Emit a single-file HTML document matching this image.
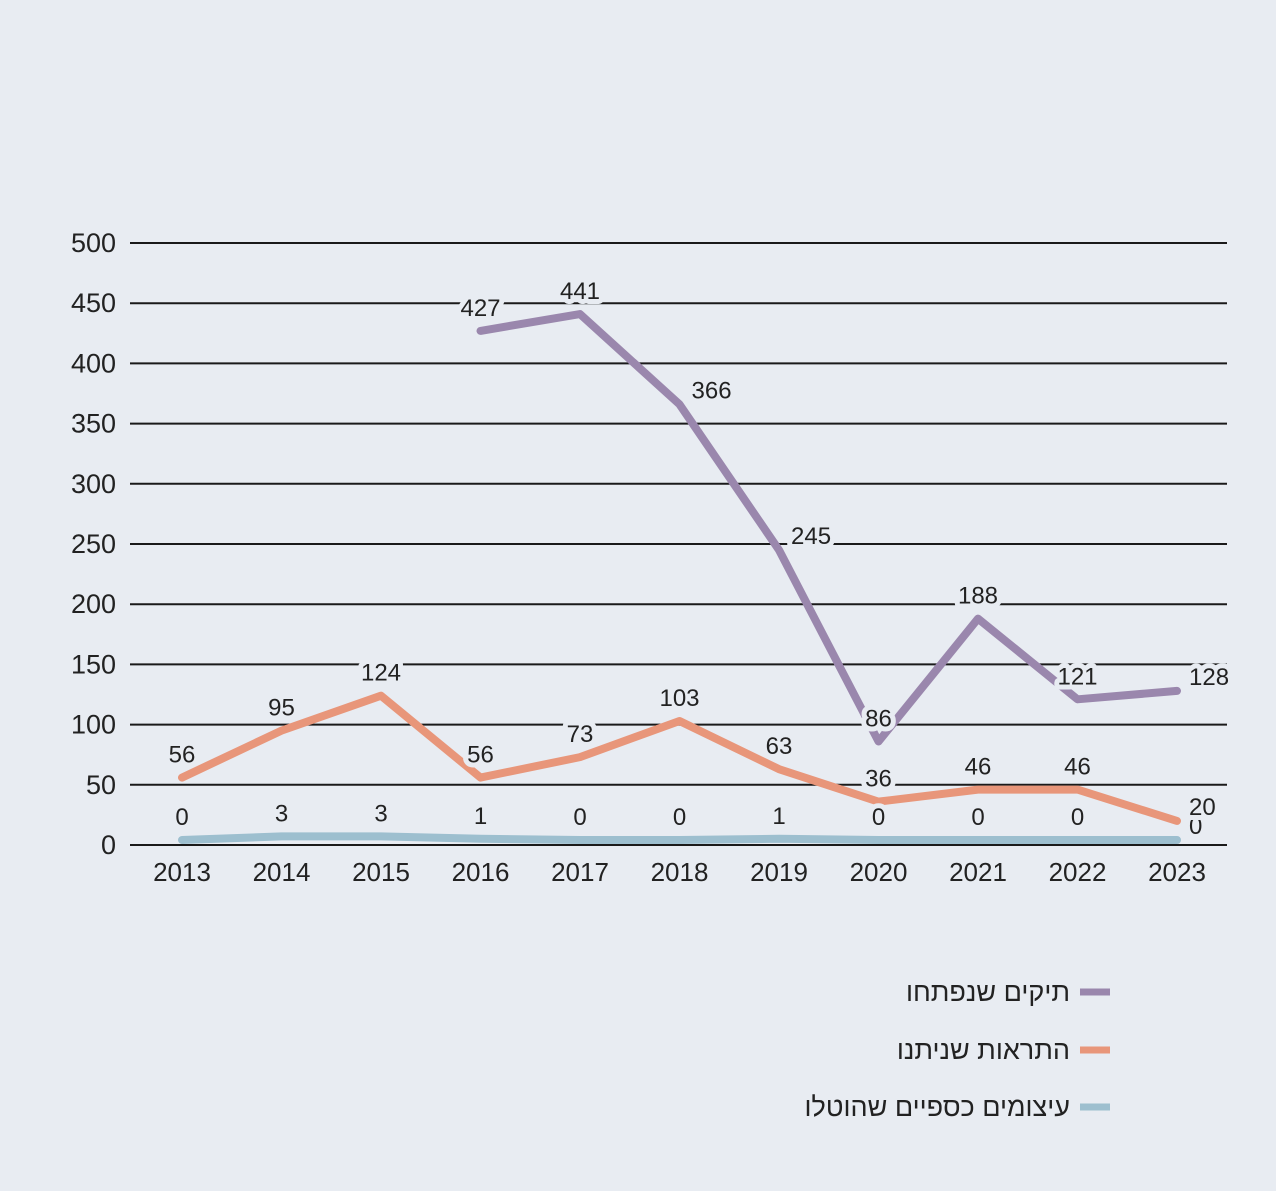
<!DOCTYPE html>
<html><head><meta charset="utf-8"><style>
body{margin:0;background:#e8ecf2;}
svg{display:block;font-family:"Liberation Sans",sans-serif;}
</style></head><body>
<svg id="chart" width="1276" height="1191" viewBox="0 0 1276 1191">
<rect width="1276" height="1191" fill="#e8ecf2"/>
<g id="grid"></g><g id="series"></g><g id="labels"></g>
<g font-family="'Liberation Sans','DejaVu Sans',sans-serif" font-size="27" fill="#222">
<g><line x1="1080" y1="992" x2="1110" y2="992" stroke="#9a87ad" stroke-width="7"/><text x="1070" y="1001" direction="rtl" text-anchor="start">תיקים שנפתחו</text></g>
<g><line x1="1080" y1="1050" x2="1110" y2="1050" stroke="#e8967a" stroke-width="7"/><text x="1070" y="1059" direction="rtl" text-anchor="start">התראות שניתנו</text></g>
<g><line x1="1080" y1="1107" x2="1110" y2="1107" stroke="#9dbfcf" stroke-width="7"/><text x="1070" y="1116" direction="rtl" text-anchor="start">עיצומים כספיים שהוטלו</text></g>
</g>
</svg>
<script>
const years=[2013,2014,2015,2016,2017,2018,2019,2020,2021,2022,2023];
const yTicks=[0,50,100,150,200,250,300,350,400,450,500];
const cases=[null,null,null,427,441,366,245,86,188,121,128];
const warnings=[56,95,124,56,73,103,63,36,46,46,20];
const fines=[0,3,3,1,0,0,1,0,0,0,0];
const NS="http://www.w3.org/2000/svg";
const x=i=>182+i*99.5;
const y=v=>845-v*(602/500);
function mk(t,a,p){const e=document.createElementNS(NS,t);for(const k in a)e.setAttribute(k,a[k]);p.appendChild(e);return e;}
const grid=document.getElementById('grid'),ser=document.getElementById('series'),lab=document.getElementById('labels');
yTicks.forEach(v=>{
 const l=mk('line',{x1:130,x2:1227,y1:y(v),y2:y(v),stroke:'#1a1a1a','stroke-width':2},grid);
 
 
 const t=mk('text',{x:116,y:y(v)+9,'text-anchor':'end','font-size':27,fill:'#222'},grid);
 t.textContent=v;
 
 
});
years.forEach((yr,i)=>{
 const t=mk('text',{x:x(i),y:881,'text-anchor':'middle','font-size':26,fill:'#222'},grid);
 t.textContent=yr;
 
 
});
function series(vals,color,name,off,place){
 const pts=[];vals.forEach((v,i)=>{if(v!==null)pts.push([x(i),y(v)-off,v,i]);});
 const p=mk('polyline',{points:pts.map(q=>q[0]+','+q[1]).join(' '),fill:'none',stroke:color,'stroke-width':8,'stroke-linecap':'round','stroke-linejoin':'round'},ser);
 
 
 pts.forEach(q=>{
  const pl=place(q[3]);
  const right=pl==='r';
  const lx=right?q[0]+12:q[0], ly=right?q[1]-6:q[1]-15;
  const t=mk('text',{x:lx,y:ly,'text-anchor':right?'start':'middle','font-size':24,fill:'#222',stroke:'#e8ecf2','stroke-width':10,'paint-order':'stroke','stroke-linejoin':'round'},lab);
  t.textContent=q[2];
  
  
 });
}
series(fines,'#9dbfcf','fines',5,i=>i===10?'r':'a');
series(warnings,'#e8967a','warnings',0,i=>i===10?'r':'a');
series(cases,'#9a87ad','cases',0,i=>(i===5||i===6||i===10)?'r':'a');
</script>
</body></html>
